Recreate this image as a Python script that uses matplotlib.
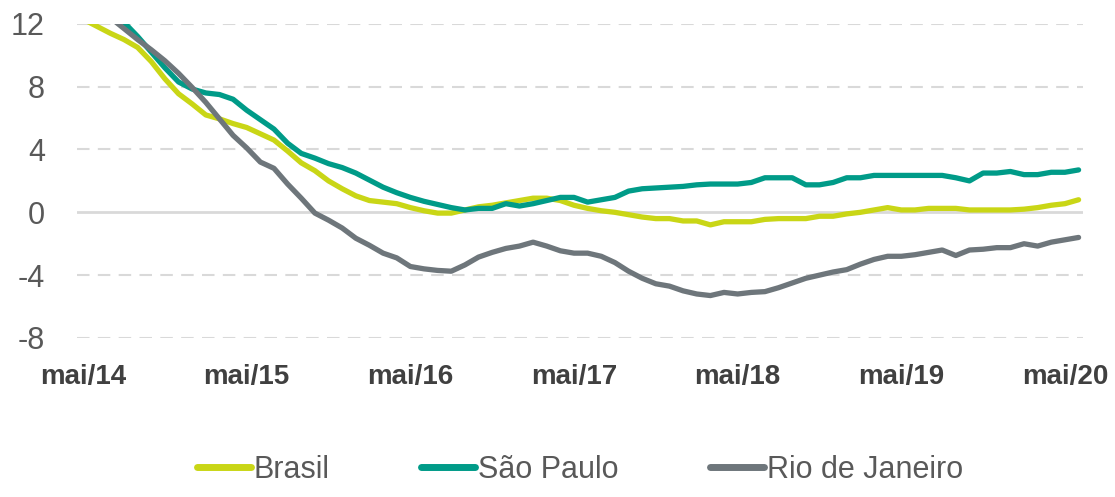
import matplotlib.pyplot as plt
import numpy as np

plt.rcParams['font.family'] = ['Liberation Sans', 'DejaVu Sans']

# monthly series, mai/14 .. jun/20
brasil = [12.3, 11.85, 11.4, 11.0, 10.5, 9.6, 8.5, 7.55, 6.9, 6.2, 5.95, 5.65,
          5.4, 5.0, 4.6, 3.9, 3.15, 2.65, 2.0, 1.5, 1.05, 0.75, 0.65, 0.55,
          0.3, 0.1, -0.05, -0.05, 0.15, 0.35, 0.45, 0.6, 0.75, 0.9, 0.9, 0.75,
          0.45, 0.25, 0.1, 0.0, -0.15, -0.3, -0.4, -0.4, -0.55, -0.55, -0.8, -0.6,
          -0.6, -0.6, -0.45, -0.4, -0.4, -0.4, -0.25, -0.25, -0.1, 0.0, 0.15, 0.3,
          0.15, 0.15, 0.25, 0.25, 0.25, 0.15, 0.15, 0.15, 0.15, 0.2, 0.3, 0.45,
          0.55, 0.8]
sao_paulo = [14.6, 13.8, 12.9, 12.1, 11.2, 10.2, 9.2, 8.3, 7.85, 7.6, 7.5, 7.2,
             6.5, 5.9, 5.3, 4.4, 3.75, 3.45, 3.1, 2.85, 2.5, 2.05, 1.6, 1.25,
             0.95, 0.7, 0.5, 0.3, 0.15, 0.25, 0.25, 0.55, 0.4, 0.55, 0.75, 0.95,
             0.95, 0.65, 0.8, 0.95, 1.35, 1.5, 1.55, 1.6, 1.65, 1.75, 1.8, 1.8,
             1.8, 1.9, 2.2, 2.2, 2.2, 1.75, 1.75, 1.9, 2.2, 2.2, 2.35, 2.35,
             2.35, 2.35, 2.35, 2.35, 2.2, 2.0, 2.5, 2.5, 2.6, 2.4, 2.4, 2.55,
             2.55, 2.7]
rio = [13.7, 13.0, 12.4, 11.7, 11.0, 10.35, 9.65, 8.85, 7.95, 7.0, 5.95, 4.9,
       4.1, 3.2, 2.8, 1.8, 0.9, -0.05, -0.5, -1.0, -1.65, -2.1, -2.6, -2.9,
       -3.45, -3.6, -3.7, -3.75, -3.35, -2.85, -2.55, -2.3, -2.15, -1.9, -2.15, -2.45,
       -2.6, -2.6, -2.8, -3.2, -3.75, -4.2, -4.55, -4.7, -5.0, -5.2, -5.3, -5.1,
       -5.2, -5.1, -5.05, -4.8, -4.5, -4.2, -4.0, -3.8, -3.65, -3.3, -3.0, -2.8,
       -2.8, -2.7, -2.55, -2.4, -2.75, -2.4, -2.35, -2.25, -2.25, -2.0, -2.15, -1.9,
       -1.75, -1.6]

tick_labels = ['mai/14', 'mai/15', 'mai/16', 'mai/17', 'mai/18', 'mai/19', 'mai/20']
y_ticks = [-8, -4, 0, 4, 8, 12]

fig = plt.figure(figsize=(11.15, 4.97), dpi=100)
ax = fig.add_axes([0.069, 0.32, 0.902, 0.632])

x = np.arange(len(brasil))
ax.plot(x, brasil, color='#C9D616', lw=3.8, label='Brasil', solid_capstyle='round')
ax.plot(x, sao_paulo, color='#009B88', lw=3.8, label='São Paulo', solid_capstyle='round')
ax.plot(x, rio, color='#6E767B', lw=3.8, label='Rio de Janeiro', solid_capstyle='round')

# grid: dashed lines, solid zero line
for v in y_ticks:
    if v == 0:
        ax.axhline(v, color='#D9D9D9', lw=2.0, zorder=0)
    else:
        ax.axhline(v, color='#D9D9D9', lw=1.5, ls=(0, (6, 4)), zorder=0)

ax.set_ylim(-8, 12)
ax.set_xlim(-0.45, 73.3)
ax.set_yticks(y_ticks)
ax.set_yticklabels([str(v) for v in y_ticks], fontsize=22, color='#595959')
ax.set_xticks(np.arange(0, 73, 12))
ax.set_xticklabels(tick_labels, fontsize=20, fontweight='bold', color='#404040')
ax.tick_params(axis='y', length=0, pad=23)
ax.tick_params(axis='x', length=0, pad=19)
for s in ax.spines.values():
    s.set_visible(False)

leg = fig.legend(loc='center', bbox_to_anchor=(580 / 1115, 1 - 470 / 497), ncol=3,
                 frameon=False, fontsize=22, handlelength=1.75, handletextpad=0.1,
                 columnspacing=3.0, labelcolor='#595959')
for h in leg.get_lines():
    h.set_linewidth(5)
    h.set_solid_capstyle('round')

fig.savefig('out.png', dpi=100)
